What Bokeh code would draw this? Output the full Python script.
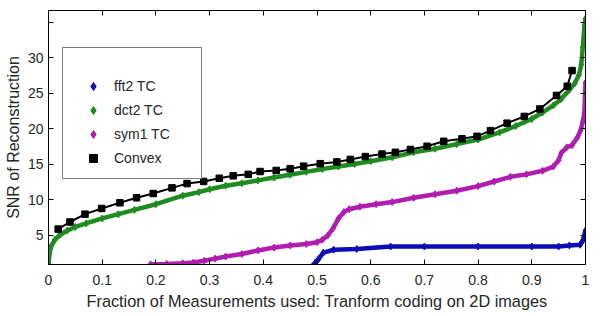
from bokeh.plotting import figure
from bokeh.models import (Range1d, LinearAxis, FixedTicker, Legend, LegendItem)
from bokeh.embed import file_html
from bokeh.resources import INLINE

# ---- data ----
fft2_x = [0.488, 0.497, 0.503, 0.512, 0.531, 0.574, 0.637, 0.70, 0.80, 0.90, 0.95, 0.97, 0.99, 0.995, 1.0]
fft2_y = [0.5, 1.2, 1.7, 2.6, 3.0, 3.1, 3.45, 3.45, 3.45, 3.45, 3.45, 3.6, 3.7, 4.3, 5.7]

dct2_x = [0.0, 0.002, 0.005, 0.012, 0.02, 0.035, 0.05, 0.07, 0.10, 0.13, 0.16, 0.20, 0.25, 0.28,
          0.30, 0.33, 0.36, 0.39, 0.42, 0.45, 0.48, 0.51, 0.54, 0.57, 0.60, 0.64, 0.68, 0.72,
          0.76, 0.80, 0.84, 0.87, 0.90, 0.92, 0.94, 0.955, 0.97, 0.98, 0.988, 0.992, 0.995, 0.998, 1.0]
dct2_y = [1.0, 2.5, 3.5, 4.4, 5.0, 5.7, 6.2, 6.7, 7.4, 8.0, 8.6, 9.4, 10.6, 11.1,
          11.5, 12.0, 12.35, 12.75, 13.15, 13.55, 13.95, 14.35, 14.7, 15.05, 15.45, 16.0, 16.7, 17.2,
          17.85, 18.5, 19.5, 20.4, 21.4, 22.3, 23.3, 24.2, 25.5, 26.4, 27.6, 29.0, 31.5, 34.5, 35.5]

sym1_x = [0.19, 0.22, 0.25, 0.27, 0.29, 0.31, 0.33, 0.36, 0.39, 0.42, 0.45, 0.48, 0.50, 0.51, 0.52,
          0.53, 0.54, 0.55, 0.56, 0.58, 0.61, 0.64, 0.68, 0.72, 0.76, 0.80, 0.83, 0.86, 0.89, 0.92,
          0.94, 0.95, 0.955, 0.965, 0.975, 0.985, 0.991, 0.995, 0.998, 1.0]
sym1_y = [0.95, 1.0, 1.1, 1.2, 1.45, 1.75, 2.05, 2.4, 2.9, 3.3, 3.6, 3.8, 4.05, 4.4, 5.0,
          6.0, 7.4, 8.3, 8.7, 9.05, 9.4, 9.7, 10.3, 10.8, 11.3, 11.95, 12.6, 13.25, 13.6, 14.1,
          14.7, 15.6, 16.6, 17.4, 17.7, 18.8, 19.8, 21.0, 22.3, 26.5]

convex_x = [0.018, 0.040, 0.068, 0.099, 0.133, 0.164, 0.195, 0.230, 0.258, 0.289, 0.318, 0.344,
            0.372, 0.394, 0.424, 0.450, 0.475, 0.506, 0.537, 0.562, 0.590, 0.621, 0.646, 0.674,
            0.705, 0.736, 0.770, 0.798, 0.823, 0.854, 0.886, 0.915, 0.946, 0.966, 0.975]
convex_y = [5.9, 6.9, 8.0, 8.8, 9.6, 10.3, 10.9, 11.7, 12.3, 12.6, 13.05, 13.4,
            13.6, 14.0, 14.15, 14.4, 14.75, 15.1, 15.35, 15.7, 16.1, 16.45, 16.7, 17.1,
            17.55, 18.25, 18.6, 18.95, 19.75, 20.8, 21.75, 22.8, 24.7, 26.0, 28.2]

x_ticks = [0, 0.1, 0.2, 0.3, 0.4, 0.5, 0.6, 0.7, 0.8, 0.9, 1.0]
x_tick_labels = ["0", "0.1", "0.2", "0.3", "0.4", "0.5", "0.6", "0.7", "0.8", "0.9", "1"]
y_ticks = [5, 10, 15, 20, 25, 30, 35]
y_tick_labels = ["5", "10", "15", "20", "25", "30", ""]

series_names = ["fft2 TC", "dct2 TC", "sym1 TC", "Convex"]
colors = ["#0c0cb4", "#1e8c1e", "#b01eb0", "#000000"]

FONT = "Liberation Sans"
TXT = "#262626"

p = figure(width=606, height=316, output_backend="svg", toolbar_location=None,
           x_range=Range1d(0, 1), y_range=Range1d(0.92, 36.65),
           min_border_left=48, min_border_right=21, min_border_top=10, min_border_bottom=52)
p.background_fill_color = "white"
p.border_fill_color = "white"
p.outline_line_color = "black"
p.outline_line_width = 1
p.grid.visible = False

def style_axis(ax):
    ax.axis_line_color = "black"
    ax.major_tick_line_color = "black"
    ax.minor_tick_line_color = None
    ax.major_tick_in = 5
    ax.major_tick_out = 0
    ax.major_label_text_font = FONT
    ax.major_label_text_color = TXT
    ax.axis_label_text_font = FONT
    ax.axis_label_text_color = TXT
    ax.axis_label_text_font_style = "normal"

xa = p.xaxis[0]
xa.ticker = FixedTicker(ticks=x_ticks)
xa.major_label_overrides = {t: l for t, l in zip(x_ticks, x_tick_labels)}
style_axis(xa)
xa.major_label_text_font_size = "14px"
xa.major_label_standoff = 10
xa.axis_label = "Fraction of Measurements used: Tranform coding on 2D images"
xa.axis_label_text_font_size = "16.3px"
xa.axis_label_standoff = 4

ya = p.yaxis[0]
ya.ticker = FixedTicker(ticks=y_ticks)
ya.major_label_overrides = {t: l for t, l in zip(y_ticks, y_tick_labels)}
style_axis(ya)
ya.major_label_text_font_size = "14px"
ya.major_label_standoff = 5
ya.axis_label = "SNR of Reconstruction"
ya.axis_label_text_font_size = "16px"
ya.axis_label_standoff = 3

top = LinearAxis(ticker=FixedTicker(ticks=x_ticks),
                 major_label_overrides={t: "" for t in x_ticks})
style_axis(top)
top.major_label_text_font_size = "1px"
top.major_label_standoff = 0
p.add_layout(top, "above")
right = LinearAxis(ticker=FixedTicker(ticks=y_ticks),
                   major_label_overrides={t: "" for t in y_ticks})
style_axis(right)
right.major_label_text_font_size = "1px"
right.major_label_standoff = 0
p.add_layout(right, "right")

xs = [fft2_x, dct2_x, sym1_x]
ys = [fft2_y, dct2_y, sym1_y]
items = []
for name, c, sx, sy in zip(series_names[:3], colors[:3], xs, ys):
    p.line(sx, sy, line_color=c, line_width=4.5)
    r = p.scatter(sx, sy, marker="diamond", size=7, fill_color=c, line_color=c)
    items.append(LegendItem(label=name, renderers=[r]))

p.line(convex_x, convex_y, line_color="black", line_width=2)
rc = p.scatter(convex_x, convex_y, marker="square", size=6.5, fill_color="black", line_color="black")
items.append(LegendItem(label=series_names[3], renderers=[rc]))

leg = Legend(items=items, location=(14, 85), title=" ")
leg.title_text_font_size = "12px"
leg.title_standoff = 4
leg.label_text_font = FONT
leg.label_text_font_size = "14px"
leg.label_text_color = TXT
leg.border_line_color = "black"
leg.border_line_width = 1
leg.background_fill_alpha = 1
leg.padding = 10
leg.spacing = 4
leg.glyph_width = 40
leg.glyph_height = 20
leg.label_height = 20
leg.label_width = 77
leg.label_standoff = 1
leg.margin = 0
p.add_layout(leg, "center")

open("out.html", "w").write(file_html(p, INLINE))
